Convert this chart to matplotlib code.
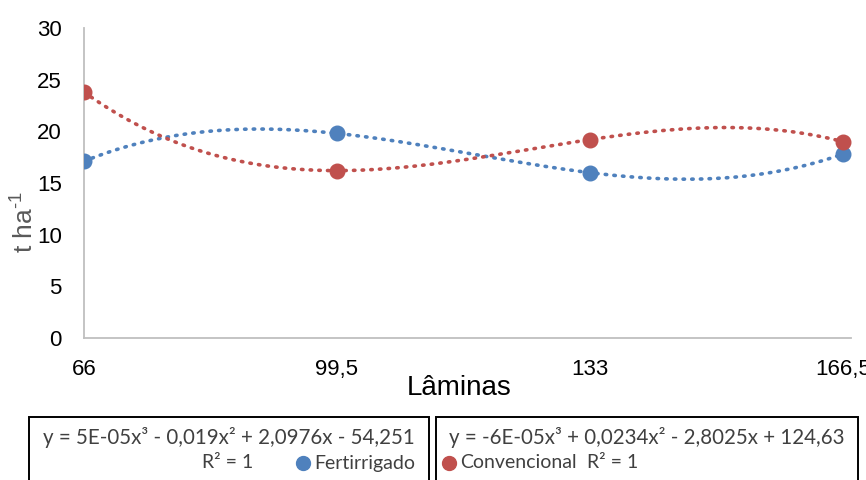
import numpy as np
import matplotlib.pyplot as plt
from matplotlib.patches import Rectangle
from matplotlib.lines import Line2D

plt.rcParams["mathtext.fontset"] = "custom"
plt.rcParams["mathtext.rm"] = "Liberation Sans"

# Lâminas (mm) e produtividade (t/ha)
laminas = ["66", "99,5", "133", "166,5"]
fertirrigado = [17.1, 19.8, 16.0, 17.8]
convencional = [23.8, 16.2, 19.2, 19.0]

eq_fert = "y = 5E-05x³ - 0,019x² + 2,0976x - 54,251"
eq_conv = "y = -6E-05x³ + 0,0234x² - 2,8025x + 124,63"

azul = "#4F81BD"
vermelho = "#C0504D"
W, H = 866, 480

fig = plt.figure(figsize=(W / 100, H / 100), dpi=100)
ax = fig.add_axes([84 / W, 1 - 338 / H, 767 / W, 310 / H])

x = np.arange(len(laminas))
xs = np.linspace(0, len(laminas) - 1, 200)
for serie, cor in [(fertirrigado, azul), (convencional, vermelho)]:
    # linha de tendência polinomial de ordem 3
    coef = np.polyfit(x, serie, 3)
    ax.plot(xs, np.polyval(coef, xs), color=cor, lw=2.6,
            linestyle=(0, (0.4, 2.0)), dash_capstyle="round", zorder=2)
    ax.plot(x, serie, "o", color=cor, ms=10.5, zorder=3)

ax.set_xlim(0, 3.032)
ax.set_ylim(0, 30)
ax.set_yticks(range(0, 31, 5))
ax.set_xticks(x)
ax.set_xticklabels(laminas)
for s in ["top", "right"]:
    ax.spines[s].set_visible(False)
for s in ["left", "bottom"]:
    ax.spines[s].set_color("#BFBFBF")
    ax.spines[s].set_linewidth(1.3)
ax.tick_params(axis="both", length=0, labelsize=16, colors="black")
ax.tick_params(axis="y", pad=16)
ax.tick_params(axis="x", pad=15)
for lab in ax.get_xticklabels() + ax.get_yticklabels():
    lab.set_fontfamily("Liberation Sans")
ax.set_xlabel("Lâminas", fontsize=20, family="Liberation Sans", labelpad=0)
ax.xaxis.set_label_coords(459 / W, 1 - 375 / H, transform=fig.transFigure)
ax.set_ylabel(r"t ha$^{\text{-1}}$", fontsize=19, family="Liberation Sans", color="#595959")
ax.yaxis.set_label_coords(38 / W, 1 - 222 / H, transform=fig.transFigure)

# legenda com os rótulos das linhas de tendência
eq_font = dict(family=["Lato", "DejaVu Sans"], fontsize=14.8, color="#404040")
leg_font = dict(family=["Lato", "DejaVu Sans"], fontsize=14, color="#404040")
for x0, x1 in [(29, 429), (436, 858)]:
    fig.add_artist(Rectangle((x0 / W, -0.05), (x1 - x0) / W, 0.05 + 1 - 417 / H,
                             transform=fig.transFigure, fill=False,
                             edgecolor="black", lw=1.4))

def fx(px):
    return px / W

def fy(py):
    return 1 - py / H

fig.text(fx(229), fy(437), eq_fert, ha="center", va="center", **eq_font)
fig.text(fx(228), fy(463), "R² = 1", ha="center", va="center", **leg_font)
fig.add_artist(Line2D([fx(303)], [fy(463)], marker="o", color=azul, ms=10,
                      transform=fig.transFigure))
fig.text(fx(314), fy(463), "Fertirrigado", ha="left", va="center", **leg_font)

fig.text(fx(647), fy(437), eq_conv, ha="center", va="center", **eq_font)
fig.add_artist(Line2D([fx(449)], [fy(463)], marker="o", color=vermelho, ms=10,
                      transform=fig.transFigure))
fig.text(fx(460), fy(463), "Convencional", ha="left", va="center", **leg_font)
fig.text(fx(613), fy(463), "R² = 1", ha="center", va="center", **leg_font)

fig.savefig("out.png", dpi=100)
